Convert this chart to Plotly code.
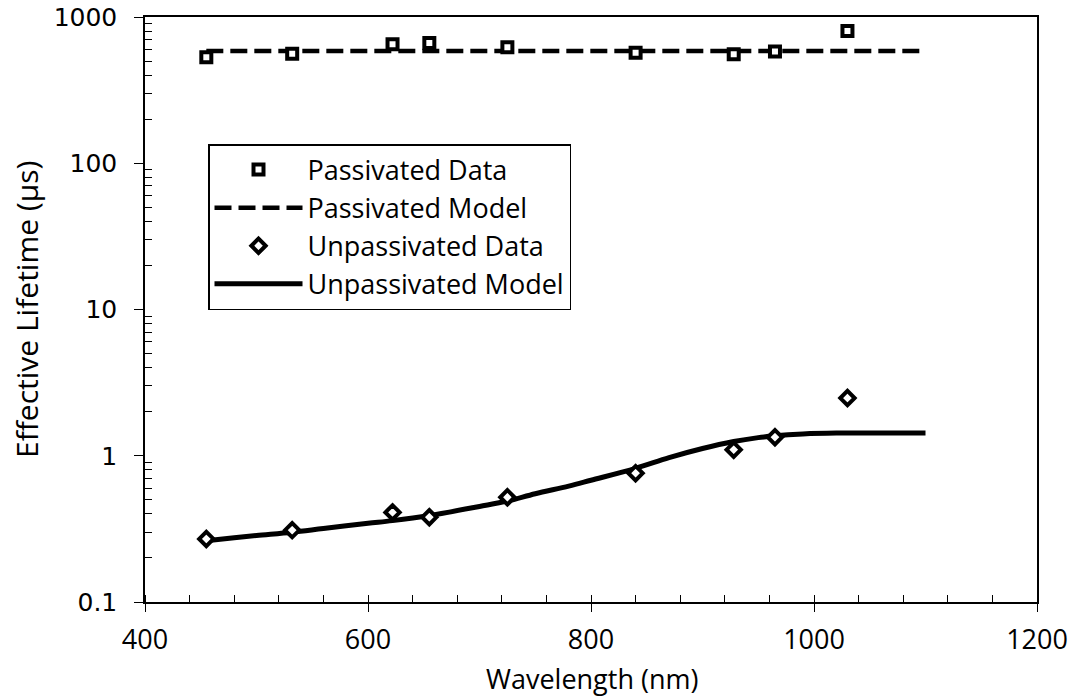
import plotly.graph_objects as go

# ---- data ----
data_wavelength = [455, 532, 622, 655, 725, 840, 928, 965, 1030]
passivated_data = [530, 560, 650, 665, 620, 570, 556, 580, 802]
unpassivated_data = [0.27, 0.31, 0.41, 0.38, 0.52, 0.76, 1.10, 1.34, 2.48]

model_wavelength = [455, 480, 500, 532, 560, 600, 622, 655, 700, 725, 750, 780, 800,
                    840, 870, 900, 928, 950, 965, 990, 1020, 1050, 1100]
passivated_model = [585] * len(model_wavelength)
unpassivated_model = [0.262, 0.275, 0.285, 0.30, 0.318, 0.345, 0.36, 0.39, 0.45, 0.49,
                      0.55, 0.62, 0.68, 0.82, 0.97, 1.12, 1.25, 1.33, 1.37, 1.41,
                      1.43, 1.43, 1.43]

y_tickvals = [0.1, 1, 10, 100, 1000]
y_ticktext = ["0.1", "1", "10", "100", "1000"]
x_tickvals = [400, 600, 800, 1000, 1200]
x_title = "Wavelength (nm)"
y_title = "Effective Lifetime (µs)"

TXT = "Open Sans"
NUM = "DejaVu Sans"

W, H = 1078, 698
L, R, T, B = 145, 41, 17, 96
PW, PH = W - L - R, H - T - B


def px_x(p):
    return (p - L) / PW


def px_y(p):
    return (H - B - p) / PH


fig = go.Figure()
fig.add_trace(go.Scatter(x=model_wavelength, y=passivated_model, mode="lines",
                         name="Passivated Model", legendrank=2,
                         line=dict(color="black", width=4.5, dash="17px,7px")))
fig.add_trace(go.Scatter(x=model_wavelength, y=unpassivated_model, mode="lines",
                         name="Unpassivated Model", legendrank=4,
                         line=dict(color="black", width=5, shape="spline")))
fig.add_trace(go.Scatter(x=data_wavelength, y=passivated_data, mode="markers",
                         name="Passivated Data", legendrank=1,
                         marker=dict(symbol="square", size=10, color="white",
                                     line=dict(color="black", width=4))))
fig.add_trace(go.Scatter(x=data_wavelength, y=unpassivated_data, mode="markers",
                         name="Unpassivated Data", legendrank=3,
                         marker=dict(symbol="diamond", size=11, color="white",
                                     line=dict(color="black", width=4))))

minor_y = [m * 10.0 ** e for e in range(-1, 3) for m in range(2, 10)]

fig.update_layout(
    width=W, height=H,
    margin=dict(l=L, r=R, t=T, b=B),
    paper_bgcolor="white", plot_bgcolor="white",
    font=dict(family=TXT, color="black"),
    showlegend=True,
    legend=dict(x=px_x(208), y=px_y(144), xanchor="left", yanchor="top",
                bordercolor="black", borderwidth=1.5, bgcolor="white",
                font=dict(family=TXT, size=27, color="black"),
                itemwidth=88, tracegroupgap=0, traceorder="normal"),
    xaxis=dict(range=[400, 1200], tickvals=x_tickvals, automargin=False,
               showline=True, linecolor="black", linewidth=1.5, mirror=True,
               ticks="outside", ticklen=8, tickwidth=1.2, tickcolor="black",
               ticklabelstandoff=5,
               showgrid=False, zeroline=False,
               tickfont=dict(family=TXT, size=27, color="black"),
               minor=dict(dtick=40, tick0=400, ticks="inside", ticklen=7,
                          tickcolor="black", tickwidth=1, showgrid=False)),
    yaxis=dict(type="log", range=[-1, 3], tickvals=y_tickvals, ticktext=y_ticktext,
               automargin=False,
               showline=True, linecolor="black", linewidth=1.5, mirror=True,
               ticks="outside", ticklen=9, tickwidth=1.2, tickcolor="black",
               ticklabelstandoff=12,
               showgrid=False, zeroline=False,
               tickfont=dict(family=NUM, size=25, color="black"),
               minor=dict(tickmode="array", tickvals=minor_y, ticks="inside", ticklen=7,
                          tickcolor="black", tickwidth=1, showgrid=False)),
    annotations=[
        dict(text=x_title, xref="paper", yref="paper", x=px_x(592), y=px_y(678),
             xanchor="center", yanchor="middle", showarrow=False,
             font=dict(family=TXT, size=27, color="black")),
        dict(text=y_title, xref="paper", yref="paper", x=px_x(26), y=px_y(310),
             xanchor="center", yanchor="middle", showarrow=False, textangle=-90,
             font=dict(family=TXT, size=30, color="black")),
    ],
)

fig.write_html("out.html")
